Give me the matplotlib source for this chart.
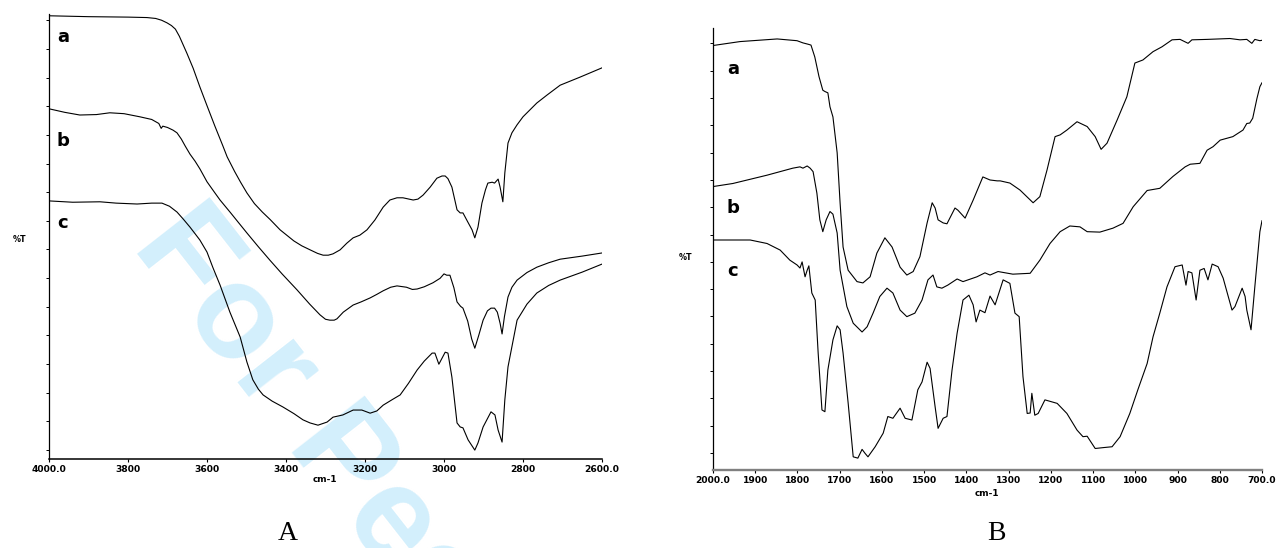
import matplotlib
matplotlib.use("Agg")
import matplotlib.pyplot as plt

# ---------------- data: panel A (4000-2600 cm-1) ----------------
wn_A_a = [4000, 3900, 3800, 3752, 3730, 3715, 3701, 3690, 3680, 3670, 3660, 3651, 3635, 3618,
          3600, 3580, 3560, 3549, 3530, 3515, 3499, 3480, 3460, 3440, 3415, 3380, 3360, 3339,
          3320, 3306, 3293, 3281, 3263, 3246, 3230, 3213, 3195, 3175, 3154, 3137, 3119, 3104,
          3078, 3066, 3053, 3035, 3018, 3005, 2997, 2990, 2980, 2967, 2959, 2952, 2940, 2929,
          2922, 2914, 2904, 2895, 2889, 2878, 2872, 2863, 2858, 2851, 2846, 2838, 2828, 2815,
          2800, 2765, 2739, 2706, 2656, 2600]
T_A_a = [99.6, 99.4, 99.3, 99.2, 99.0, 98.6, 98.0, 97.4, 96.6, 95.0, 93.0, 91.2, 87.8, 83.6,
         79.4, 74.8, 70.4, 67.9, 64.6, 62.2, 59.8, 57.4, 55.5, 53.8, 51.5, 49.0, 47.9, 47.0,
         46.2, 45.8, 45.8, 46.1, 47.0, 48.5, 49.7, 50.3, 51.5, 53.7, 56.6, 58.2, 58.7, 58.7,
         58.2, 58.4, 59.3, 61.1, 63.1, 63.6, 63.6, 63.0, 61.1, 56.0, 55.3, 55.3, 53.3, 51.5,
         49.7, 52.1, 57.5, 60.5, 62.0, 62.2, 62.0, 62.9, 61.1, 57.8, 64.3, 71.0, 73.3, 75.1,
         76.9, 80.0, 81.8, 84.0, 85.8, 87.9]

wn_A_b = [4000, 3960, 3922, 3880, 3846, 3810, 3770, 3740, 3722, 3716, 3712, 3700, 3686, 3676,
          3665, 3655, 3643, 3630, 3618, 3600, 3580, 3567, 3540, 3520, 3499, 3470, 3441, 3410,
          3372, 3340, 3314, 3300, 3289, 3278, 3271, 3255, 3230, 3210, 3187, 3170, 3154, 3135,
          3119, 3095, 3080, 3068, 3050, 3028, 3010, 3000, 2993, 2985, 2975, 2967, 2958, 2952,
          2940, 2930, 2922, 2912, 2901, 2890, 2881, 2872, 2865, 2858, 2853, 2847, 2838, 2828,
          2815, 2790, 2765, 2735, 2706, 2650, 2600]
T_A_b = [78.7, 77.9, 77.3, 77.4, 77.8, 77.6, 76.9, 76.3, 75.4, 74.3, 74.8, 74.5, 73.9, 73.3,
         71.9, 70.3, 68.5, 66.9, 65.2, 62.3, 59.8, 58.2, 55.3, 53.1, 50.8, 47.7, 44.7, 41.6,
         38.0, 34.8, 32.4, 31.4, 31.2, 31.2, 31.5, 33.0, 34.6, 35.3, 36.2, 37.0, 37.8, 38.6,
         38.9, 38.6, 38.1, 38.2, 38.7, 39.6, 40.6, 41.6, 41.3, 41.3, 38.5, 35.3, 34.3, 33.9,
         31.0, 27.0, 24.9, 27.8, 31.2, 33.3, 33.9, 33.9, 33.0, 30.5, 28.1, 32.0, 36.4, 38.6,
         40.2, 41.9, 43.1, 44.1, 44.9, 45.6, 46.3]

wn_A_c = [4000, 3940, 3871, 3830, 3777, 3740, 3714, 3695, 3676, 3660, 3643, 3630, 3618, 3600,
          3585, 3567, 3542, 3516, 3499, 3484, 3470, 3458, 3435, 3408, 3380, 3357, 3339, 3319,
          3296, 3281, 3256, 3230, 3208, 3187, 3170, 3154, 3130, 3111, 3090, 3068, 3050, 3030,
          3023, 3013, 2997, 2990, 2980, 2967, 2959, 2952, 2939, 2922, 2914, 2901, 2881, 2871,
          2863, 2853, 2846, 2838, 2815, 2790, 2765, 2735, 2706, 2650, 2600]
T_A_c = [58.0, 57.7, 57.8, 57.5, 57.3, 57.5, 57.5, 56.8, 55.5, 53.9, 52.1, 50.6, 49.2, 46.5,
         43.0, 39.1, 33.0, 27.4, 21.8, 17.8, 15.7, 14.4, 13.0, 11.7, 10.2, 8.8, 8.1, 7.6,
         8.3, 9.4, 9.9, 11.0, 11.0, 10.3, 10.8, 12.1, 13.4, 14.4, 17.0, 20.0, 22.0, 23.8,
         23.8, 21.3, 24.0, 23.8, 18.4, 8.1, 7.2, 7.0, 4.3, 2.0, 3.6, 7.2, 10.6, 9.9,
         6.5, 3.8, 13.3, 20.7, 31.2, 34.8, 37.3, 39.0, 40.2, 42.0, 43.8]

# ---------------- data: panel B (2000-700 cm-1) ----------------
wn_B_a = [2000, 1936, 1848, 1801, 1787, 1775, 1768, 1759, 1749, 1740, 1735, 1728, 1723, 1716,
          1706, 1699, 1692, 1680, 1659, 1645, 1628, 1612, 1593, 1576, 1557, 1541, 1526, 1510,
          1493, 1481, 1474, 1467, 1455, 1446, 1427, 1420, 1403, 1384, 1361, 1344, 1327, 1320,
          1297, 1273, 1242, 1226, 1209, 1190, 1178, 1162, 1138, 1114, 1095, 1081, 1067, 1043,
          1020, 1001, 982, 958, 937, 913, 894, 875, 866, 830, 776, 752, 736, 724, 717, 705, 700]
T_B_a = [96.0, 96.9, 97.5, 97.1, 96.6, 96.3, 96.1, 93.4, 88.9, 85.8, 85.5, 85.2, 82.0, 79.7,
         71.5, 60.0, 50.0, 44.7, 42.1, 41.8, 43.2, 48.6, 52.1, 50.0, 45.4, 43.6, 44.4, 47.8,
         55.5, 60.1, 58.9, 56.2, 55.5, 55.3, 58.9, 58.4, 56.6, 60.7, 66.0, 65.3, 65.1, 65.1,
         64.6, 63.0, 60.1, 61.5, 67.6, 75.2, 75.6, 76.7, 78.6, 77.5, 75.2, 72.3, 73.7, 79.0,
         84.3, 92.0, 92.7, 94.6, 95.7, 97.3, 97.4, 96.5, 97.3, 97.4, 97.6, 97.3, 97.4, 96.5,
         97.4, 97.1, 97.2]

wn_B_b = [2000, 1953, 1872, 1811, 1794, 1787, 1777, 1770, 1763, 1754, 1747, 1740, 1732, 1723,
          1716, 1706, 1699, 1683, 1668, 1647, 1635, 1621, 1605, 1588, 1574, 1557, 1541, 1522,
          1505, 1491, 1479, 1470, 1458, 1444, 1422, 1408, 1375, 1356, 1344, 1325, 1290, 1249,
          1226, 1202, 1178, 1155, 1131, 1114, 1084, 1053, 1029, 1005, 972, 942, 911, 882, 870,
          847, 830, 816, 799, 769, 745, 736, 729, 722, 712, 705, 700]
T_B_b = [63.8, 64.5, 66.4, 68.0, 68.3, 68.0, 68.5, 68.0, 67.2, 62.3, 56.2, 53.5, 56.2, 58.1,
         57.5, 53.2, 44.7, 36.4, 32.6, 30.6, 31.8, 34.9, 38.7, 40.6, 39.5, 35.6, 34.1, 34.9,
         37.9, 42.5, 43.6, 40.9, 40.6, 41.3, 42.7, 42.1, 43.2, 44.1, 43.6, 44.4, 43.8, 44.0,
         47.0, 50.8, 53.5, 54.8, 54.6, 53.5, 53.4, 54.3, 55.4, 59.2, 62.9, 63.4, 66.1, 68.3, 68.9,
         69.1, 72.1, 72.9, 74.4, 75.2, 76.7, 78.2, 78.3, 79.4, 83.9, 86.6, 87.5]

wn_B_c = [2000, 1912, 1872, 1841, 1818, 1801, 1794, 1789, 1782, 1777, 1773, 1766, 1758, 1751,
          1742, 1735, 1728, 1716, 1706, 1699, 1692, 1680, 1668, 1657, 1647, 1640, 1633, 1616,
          1597, 1586, 1574, 1557, 1545, 1529, 1515, 1505, 1493, 1486, 1474, 1467, 1455, 1446,
          1434, 1422, 1408, 1394, 1384, 1377, 1368, 1356, 1344, 1332, 1313, 1297, 1285, 1275,
          1266, 1256, 1249, 1245, 1238, 1230, 1214, 1185, 1162, 1138, 1124, 1114, 1095, 1076,
          1055, 1036, 1013, 994, 972, 958, 942, 925, 906, 889, 880, 875, 866, 856, 847, 837,
          828, 818, 804, 792, 771, 764, 747, 740, 736, 726, 717, 705, 700]
T_B_c = [51.6, 51.6, 50.8, 49.3, 47.0, 45.9, 45.2, 46.6, 43.2, 44.7, 45.7, 39.5, 37.9, 25.8,
         12.8, 12.4, 21.9, 28.8, 32.0, 31.1, 25.8, 14.4, 2.1, 1.8, 3.8, 2.9, 2.1, 4.4,
         7.5, 11.3, 10.9, 13.2, 10.9, 10.5, 17.4, 19.2, 23.7, 22.3, 13.5, 8.6, 10.9, 11.3,
         21.9, 30.3, 37.9, 39.0, 36.8, 32.9, 35.6, 35.0, 38.8, 36.8, 42.5, 41.7, 34.9, 34.1,
         20.4, 12.0, 12.1, 16.6, 11.6, 12.0, 15.1, 14.3, 12.0, 8.2, 6.7, 6.8, 4.0, 4.2,
         4.4, 6.7, 12.0, 17.4, 23.4, 29.5, 34.9, 40.9, 45.5, 45.9, 41.3, 44.4, 44.1, 37.9, 44.7, 45.1,
         42.5, 46.1, 45.5, 42.9, 35.6, 36.4, 40.6, 38.7, 35.6, 31.1, 40.9, 53.5, 56.0]

ticks_A = [4000, 3800, 3600, 3400, 3200, 3000, 2800, 2600]
ticklabels_A = ["4000.0", "3800", "3600", "3400", "3200", "3000", "2800", "2600.0"]
ticks_B = [2000, 1900, 1800, 1700, 1600, 1500, 1400, 1300, 1200, 1100, 1000, 900, 800, 700]
ticklabels_B = ["2000.0", "1900", "1800", "1700", "1600", "1500", "1400", "1300", "1200",
                "1100", "1000", "900", "800", "700.0"]
trace_names = ["a", "b", "c"]

# ---------------- figure ----------------
W, H = 1277, 548
fig = plt.figure(figsize=(W / 100, H / 100), dpi=100, facecolor="white")


def px_axes(left, right, top, bottom):
    return fig.add_axes([left / W, 1 - bottom / H, (right - left) / W, (bottom - top) / H])


def ftext(x, y, s, **kw):
    return fig.text(x / W, 1 - y / H, s, **kw)


# watermark behind both panels
ftext(131, 246, "For Peer Review", rotation=-52, rotation_mode="anchor", ha="left",
      va="baseline", fontsize=96, color="#d3effc", family="Liberation Sans",
      weight="bold", zorder=-10)

axA = px_axes(49, 602, 14, 459)
axB = px_axes(713, 1262, 28, 470)


def style(ax, xlim, ylim, ticks, labels, yticks, bottom_color, bottom_lw):
    ax.patch.set_alpha(0)
    ax.set_xlim(*xlim)
    ax.set_ylim(*ylim)
    for s in ("top", "right"):
        ax.spines[s].set_visible(False)
    ax.spines["left"].set_linewidth(0.9)
    ax.spines["left"].set_color("black")
    ax.spines["bottom"].set_linewidth(bottom_lw)
    ax.spines["bottom"].set_color(bottom_color)
    ax.set_xticks(ticks)
    ax.set_xticklabels(labels, fontsize=6.6, fontweight="bold", family="DejaVu Sans")
    ax.set_yticks(yticks)
    ax.set_yticklabels([])
    ax.tick_params(axis="x", direction="out", length=2.2, width=0.8, pad=1.8, color="black")
    ax.tick_params(axis="y", direction="out", length=2.2, width=0.7, color="black")


style(axA, (4000, 2600), (0, 100), ticks_A, ticklabels_A,
      [2.0 + 6.44 * k for k in range(16)], "black", 1.1)
style(axB, (2000, 700), (-0.91, 100.0), ticks_B, ticklabels_B,
      [2.97 + 6.233 * k for k in range(16)], "#808080", 1.7)

for wn, T in ((wn_A_a, T_A_a), (wn_A_b, T_A_b), (wn_A_c, T_A_c)):
    axA.plot(wn, T, color="black", lw=0.8, solid_joinstyle="round")
for wn, T in ((wn_B_a, T_B_a), (wn_B_b, T_B_b), (wn_B_c, T_B_c)):
    axB.plot(wn, T, color="black", lw=0.8, solid_joinstyle="round")

# trace letters
lab_kw = dict(fontsize=13, fontweight="bold", family="DejaVu Sans", ha="center", va="center")
for name, y in zip(trace_names, (37, 141, 223)):
    ftext(63, y, name, **lab_kw)
for name, y in zip(trace_names, (69, 208, 271)):
    ftext(733, y, name, **lab_kw)

# axis titles
small = dict(fontsize=6.4, fontweight="bold", family="DejaVu Sans", ha="center", va="center")
ftext(325, 479, "cm-1", **small)
ftext(987, 493, "cm-1", **small)
ftext(20, 240, "%T", **dict(small, fontsize=5.8))
ftext(686, 257, "%T", **dict(small, fontsize=5.8))

# panel captions
cap = dict(fontsize=20, family="Liberation Serif", ha="center", va="center")
ftext(288, 534, "A", **cap)
ftext(996, 534, "B", **cap)

fig.savefig("out.png", dpi=100, facecolor="white")
